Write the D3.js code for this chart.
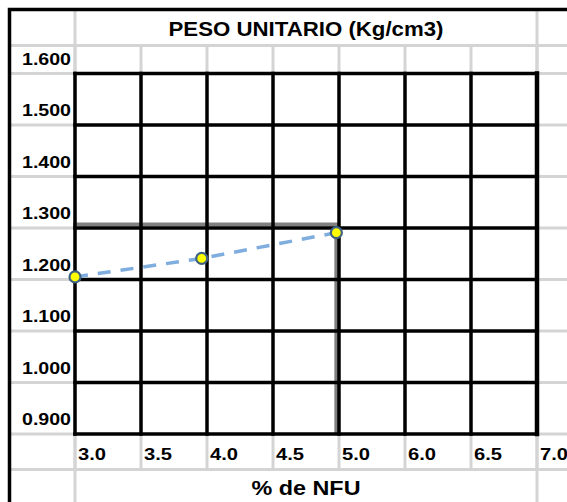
<!DOCTYPE html>
<html>
<head>
<meta charset="utf-8">
<script src="https://cdn.jsdelivr.net/npm/d3@7"></script>
<style>
  html, body { margin: 0; padding: 0; background: #ffffff; }
  svg { display: block; }
</style>
</head>
<body>
<svg id="chart" width="567" height="502"></svg>
<script>
// ---- data ----
const titleText = "PESO UNITARIO (Kg/cm3)";
const xTitleText = "% de NFU";
const xTickLabels = ["3.0", "3.5", "4.0", "4.5", "5.0", "6.0", "6.5", "7.0"];
const yTickValues = [1.6, 1.5, 1.4, 1.3, 1.2, 1.1, 1.0, 0.9];
const yTickLabels = ["1.600", "1.500", "1.400", "1.300", "1.200", "1.100", "1.000", "0.900"];
const pctNFU = [3.0, 3.96, 4.98];
const pesoUnitario = [1.205, 1.241, 1.291];
const refX = [4.98];
const refY = [1.307];

// ---- layout ----
const W = 567, H = 502;
const frameL = 9.5, frameT = 9.5;
const titleRowBottom = 45.5;
const labelRowBottom = 469.5;
const plotL = 75, plotR = 537, plotT = 73.5, plotB = 434;

const svg = d3.select("#chart");

const x = d3.scaleLinear().domain([3, 6.5]).range([plotL, plotR]);
const xCell = d3.scalePoint().domain(xTickLabels).range([plotL, plotR]);
const y = d3.scaleLinear().domain([0.9, 1.6]).range([plotB, plotT]);

const cellGray = "#d4d4d4";
const g = svg.append("g");

// ---- light gray worksheet cell lines ----
const grayH = [];
grayH.push({x1: frameL, x2: W, y: titleRowBottom});
grayH.push({x1: frameL, x2: W, y: labelRowBottom});
yTickValues.forEach(v => {
  grayH.push({x1: frameL, x2: plotL, y: y(v)});
  grayH.push({x1: plotR, x2: W, y: y(v)});
});
g.selectAll("line.gh").data(grayH).join("line")
  .attr("x1", d => d.x1).attr("x2", d => d.x2)
  .attr("y1", d => d.y).attr("y2", d => d.y)
  .attr("stroke", cellGray).attr("stroke-width", 3);

const grayV = [];
grayV.push({x: plotL, y1: frameT, y2: H});
grayV.push({x: plotR, y1: frameT, y2: H});
xTickLabels.forEach(l => {
  grayV.push({x: xCell(l), y1: titleRowBottom, y2: plotT});
  grayV.push({x: xCell(l), y1: plotB, y2: labelRowBottom});
});
g.selectAll("line.gv").data(grayV).join("line")
  .attr("x1", d => d.x).attr("x2", d => d.x)
  .attr("y1", d => d.y1).attr("y2", d => d.y2)
  .attr("stroke", cellGray).attr("stroke-width", 3);

// ---- outer black frame ----
g.append("path")
  .attr("d", `M${frameL},${H} V${frameT} H${W}`)
  .attr("fill", "none").attr("stroke", "#000").attr("stroke-width", 3.5);

// ---- gray reference lines ----
g.append("path")
  .attr("d", `M${plotL - 2},${y(refY[0])} H${x(refX[0])} V${plotB}`)
  .attr("fill", "none").attr("stroke", "#808080").attr("stroke-width", 4);

// ---- black plot grid ----
g.selectAll("line.bv").data(xTickLabels).join("line")
  .attr("x1", d => xCell(d)).attr("x2", d => xCell(d))
  .attr("y1", y(1.6)).attr("y2", y(0.9))
  .attr("stroke", "#000").attr("stroke-width", (d, i) => i === xTickLabels.length - 1 ? 4.5 : 3.5)
  .attr("stroke-linecap", "square");
g.selectAll("line.bh").data(yTickValues).join("line")
  .attr("x1", plotL).attr("x2", plotR)
  .attr("y1", d => y(d)).attr("y2", d => y(d))
  .attr("stroke", "#000").attr("stroke-width", 3.5)
  .attr("stroke-linecap", "square");

// ---- data line ----
const pts = pctNFU.map((v, i) => [v, pesoUnitario[i]]);
g.append("path")
  .datum(pts)
  .attr("d", d3.line().x(d => x(d[0])).y(d => y(d[1])))
  .attr("fill", "none").attr("stroke", "#7fadde").attr("stroke-width", 3.5)
  .attr("stroke-dasharray", "13,10");

g.selectAll("circle.pt").data(pts).join("circle")
  .attr("cx", d => x(d[0])).attr("cy", d => y(d[1]))
  .attr("r", 5.5).attr("fill", "#ffff00")
  .attr("stroke", "#3f6283").attr("stroke-width", 2.2);

// ---- texts ----
const font = "'Liberation Sans', Arial, sans-serif";
g.append("text")
  .attr("x", (plotL + plotR) / 2).attr("y", 36)
  .attr("text-anchor", "middle")
  .attr("font-family", font).attr("font-size", 20).attr("font-weight", "bold")
  .attr("textLength", 275).attr("lengthAdjust", "spacingAndGlyphs")
  .text(titleText);

g.selectAll("text.yl").data(yTickValues).join("text")
  .attr("x", 71).attr("y", d => y(d) - 9)
  .attr("text-anchor", "end")
  .attr("font-family", font).attr("font-size", 16).attr("font-weight", "bold")
  .attr("textLength", 49).attr("lengthAdjust", "spacingAndGlyphs")
  .text((d, i) => yTickLabels[i]);

g.selectAll("text.xl").data(xTickLabels).join("text")
  .attr("x", d => xCell(d) + 3).attr("y", 460)
  .attr("font-family", font).attr("font-size", 16).attr("font-weight", "bold")
  .attr("textLength", 28).attr("lengthAdjust", "spacingAndGlyphs")
  .text(d => d);

g.append("text")
  .attr("x", (plotL + plotR) / 2).attr("y", 495)
  .attr("text-anchor", "middle")
  .attr("font-family", font).attr("font-size", 20).attr("font-weight", "bold")
  .attr("textLength", 109).attr("lengthAdjust", "spacingAndGlyphs")
  .text(xTitleText);
</script>
</body>
</html>
